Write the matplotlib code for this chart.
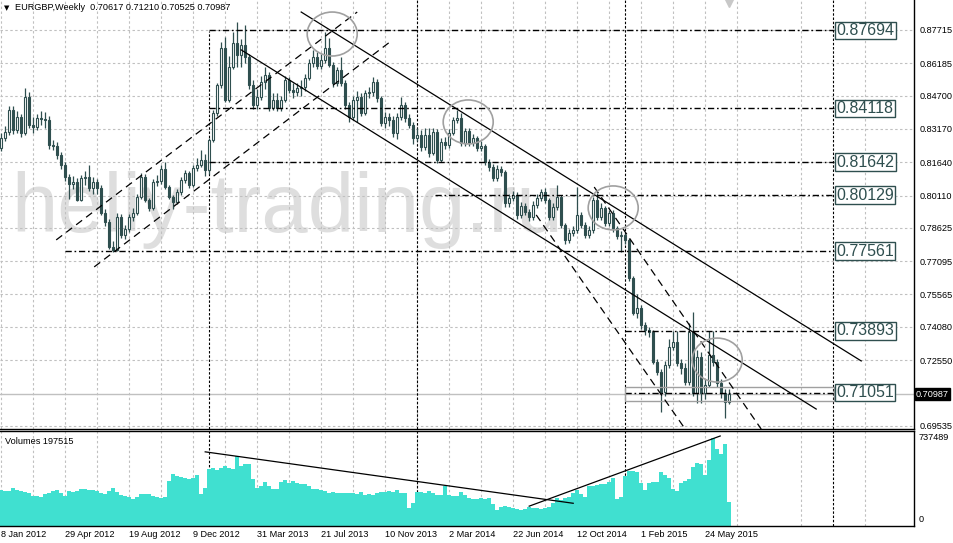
import matplotlib
matplotlib.use("Agg")
import matplotlib.pyplot as plt
from matplotlib import font_manager
from matplotlib.patches import Ellipse, Rectangle
import matplotlib.transforms as mtrans

plt.rcParams['font.family'] = ['Liberation Sans', 'DejaVu Sans']

# weekly EURGBP candles, bar 0 = 8 Jan 2012
first_open = 0.8230
closes = [
    .8276, .8303, .8404, .8312, .8372, .8299, .8464, .8335, .8326, .8367,
    .8363, .8358, .8243, .8239, .8198, .8152, .8097, .8064, .8074, .7991,
    .8092, .8097, .8046, .8074, .8046, .7931, .7890, .7775, .7761, .7913,
    .7830, .7858, .7913, .7931, .8005, .8097, .7991, .7954, .8074, .8079,
    .8133, .8051, .8005, .7982, .8028, .8083, .8115, .8060, .8138, .8152,
    .8175, .8129, .8266, .8390, .8519, .8689, .8450, .8601, .8712, .8657,
    .8702, .8647, .8519, .8427, .8464, .8533, .8565, .8413, .8450, .8413,
    .8450, .8542, .8496, .8487, .8505, .8510, .8551, .8620, .8647, .8606,
    .8634, .8689, .8611, .8528, .8588, .8528, .8427, .8372, .8450, .8464,
    .8390, .8482, .8487, .8533, .8459, .8344, .8372, .8358, .8299, .8372,
    .8427, .8367, .8335, .8276, .8289, .8234, .8289, .8207, .8303, .8175,
    .8257, .8243, .8299, .8358, .8367, .8253, .8308, .8253, .8276, .8230,
    .8239, .8165, .8142, .8092, .8133, .8120, .7977, .8000, .8014, .7922,
    .7963, .7936, .7913, .7968, .8000, .8028, .7991, .7913, .7959, .8005,
    .7876, .7807, .7839, .7853, .7922, .7876, .7830, .7853, .7991, .7913,
    .7954, .7885, .7931, .7862, .7826, .7830, .7807, .7633, .7472, .7495,
    .7417, .7394, .7385, .7247, .7202, .7110, .7234, .7316, .7339, .7243,
    .7220, .7156, .7385, .7105, .7270, .7105, .7142, .7279, .7247, .7151,
    .7105, .70617, .70987]
highs = [
    .8300, .8330, .8420, .8420, .8400, .8385, .8505, .8487, .8370, .8385,
    .8400, .8395, .8375, .8265, .8255, .8210, .8165, .8110, .8100, .8090,
    .8105, .8125, .8150, .8095, .8085, .8060, .7950, .7905, .7800, .7930,
    .7925, .7875, .7925, .7955, .8020, .8115, .8110, .8000, .8085, .8105,
    .8152, .8165, .8060, .8015, .8040, .8095, .8130, .8125, .8150, .8185,
    .8220, .8200, .8275, .8405, .8530, .8716, .8740, .8650, .8760, .8808,
    .8730, .8794, .8660, .8540, .8500, .8560, .8600, .8580, .8480, .8480,
    .8470, .8560, .8555, .8530, .8530, .8540, .8570, .8640, .8680, .8670,
    .8660, .8762, .8735, .8625, .8600, .8647, .8540, .8440, .8470, .8490,
    .8480, .8495, .8510, .8556, .8545, .8470, .8395, .8390, .8375, .8390,
    .8464, .8440, .8385, .8350, .8320, .8310, .8320, .8320, .8320, .8315,
    .8275, .8280, .8315, .8370, .8404, .8390, .8320, .8320, .8295, .8285,
    .8260, .8250, .8180, .8155, .8150, .8145, .8130, .8020, .8030, .8025,
    .7980, .7975, .7950, .7985, .8020, .8040, .8045, .8000, .7975, .8060,
    .8015, .7885, .7855, .7870, .8051, .7935, .7890, .7870, .8005, .8023,
    .7975, .7965, .7945, .7945, .7870, .7850, .7840, .7815, .7640, .7560,
    .7510, .7430, .7405, .7394, .7260, .7215, .7250, .7350, .7389, .7389,
    .7260, .7240, .7426, .7476, .7300, .7290, .7170, .7390, .7390, .7260,
    .7170, .7120, .71210]
lows = [
    .8215, .8260, .8290, .8295, .8300, .8280, .8290, .8320, .8300, .8310,
    .8335, .8320, .8225, .8220, .8180, .8135, .8080, .7995, .8040, .7985,
    .7985, .8060, .8030, .8020, .8020, .7920, .7870, .7765, .7750, .7755,
    .7815, .7810, .7845, .7895, .7920, .7995, .7980, .7940, .7945, .8055,
    .8065, .8040, .7995, .7950, .7970, .8015, .8070, .8045, .8050, .8125,
    .8140, .8100, .8110, .8255, .8375, .8505, .8440, .8440, .8590, .8600,
    .8600, .8620, .8500, .8410, .8410, .8450, .8500, .8400, .8405, .8400,
    .8400, .8440, .8480, .8460, .8470, .8470, .8490, .8540, .8600, .8590,
    .8590, .8620, .8600, .8510, .8515, .8515, .8410, .8350, .8360, .8350,
    .8375, .8380, .8460, .8470, .8440, .8330, .8320, .8330, .8280, .8270,
    .8360, .8350, .8320, .8250, .8260, .8215, .8220, .8190, .8195, .8160,
    .8165, .8225, .8230, .8290, .8345, .8240, .8240, .8240, .8240, .8215,
    .8215, .8150, .8125, .8080, .8080, .8100, .7960, .7960, .7985, .7905,
    .7910, .7920, .7895, .7900, .7955, .7985, .7975, .7900, .7900, .7945,
    .7860, .7790, .7795, .7825, .7840, .7860, .7815, .7815, .7840, .7900,
    .7900, .7870, .7870, .7845, .7810, .7752, .7790, .7620, .7460, .7450,
    .7400, .7370, .7360, .7235, .7185, .7017, .7090, .7220, .7300, .7230,
    .7190, .7140, .7140, .7090, .7060, .7060, .7075, .7130, .7230, .7130,
    .7080, .6990, .70525]
volumes_k = [
    286, 281, 281, 307, 286, 281, 275, 267, 240, 240,
    232, 254, 267, 281, 289, 267, 240, 281, 275, 281,
    294, 294, 289, 286, 281, 267, 259, 281, 307, 273,
    249, 240, 232, 214, 232, 254, 259, 254, 240, 232,
    227, 232, 361, 420, 401, 393, 388, 374, 382, 409,
    254, 307, 454, 468, 446, 468, 481, 468, 460, 561,
    481, 494, 500, 374, 302, 321, 353, 321, 299, 294,
    353, 366, 348, 361, 342, 334, 339, 321, 294, 294,
    286, 281, 267, 273, 267, 262, 262, 267, 267, 254,
    273, 249, 254, 249, 267, 273, 275, 281, 273, 286,
    267, 267, 142, 187, 273, 273, 267, 281, 267, 249,
    249, 321, 246, 240, 240, 273, 249, 227, 214, 219,
    222, 219, 222, 174, 126, 152, 160, 152, 142, 134,
    126, 134, 152, 142, 142, 134, 147, 155, 187, 227,
    208, 222, 232, 267, 289, 254, 235, 321, 321, 329,
    334, 339, 353, 388, 219, 232, 401, 441, 441, 436,
    348, 289, 348, 353, 353, 433, 406, 388, 294, 281,
    348, 361, 380, 476, 502, 494, 406, 529, 703, 615,
    575, 655, 192]

date_labels = ["8 Jan 2012", "29 Apr 2012", "19 Aug 2012", "9 Dec 2012",
               "31 Mar 2013", "21 Jul 2013", "10 Nov 2013", "2 Mar 2014",
               "22 Jun 2014", "12 Oct 2014", "1 Feb 2015", "24 May 2015"]
price_ticks = [0.87715, 0.86185, 0.84700, 0.83170, 0.81640, 0.80110,
               0.78625, 0.77095, 0.75565, 0.74080, 0.72550, 0.69535]
levels = [0.87694, 0.84118, 0.81642, 0.80129, 0.77561, 0.73893, 0.71051]
level_start = [52, 52, 52, 108.5, 16, 156, 156]
year_seps = [52, 104, 156, 208]

# drawn objects, in (bar, price)
trend_solid = [((75, .8854), (215, .7251)), ((60, .8680), (203.75, .7030))]
trend_dashed = [((13.75, .7807), (89, .8854)), ((23.25, .7683), (97.5, .8721)),
                ((133.75, .7922), (171, .6938)), ((148.25, .8050), (190, .6938))]
circles = [(82.75, .8753), (116.75, .8349), (153, .7954), (179, .7255)]
vol_lines = [((51, 594000), (143, 182000)), ((132, 159000), (179.75, 721000))]
last_price = 0.70987

edge = '#2F4F4F'
grid_c = '#C0C0C0'
W, H = 954, 543

fig = plt.figure(figsize=(W / 100, H / 100), dpi=100)
ax = fig.add_axes([0, 1 - 429 / H, 914 / W, 429 / H])
axv = fig.add_axes([0, 1 - 526 / H, 914 / W, 95 / H], sharex=ax)

n = len(closes)
idx = list(range(n))
opens = [first_open] + closes[:-1]

ax.set_xlim(-0.3, 228.2)
ax.set_ylim(0.69383, 0.89093)
axv.set_ylim(0, 761000)

# watermark
installed = {f.name for f in font_manager.fontManager.ttflist}
if 'Liberation Sans Narrow' in installed:
    wm_family, wm_size = 'Liberation Sans Narrow', 69
else:
    wm_family, wm_size = 'Liberation Sans', 60
ax.text(2.5, 0.7843, "heliy-trading.ru", fontsize=wm_size, color='#DEDEDE',
        family=wm_family, va='baseline', ha='left', zorder=0.5)

# grid
ax.set_xticks(range(0, 229, 16))
ax.set_xticks(range(8, 229, 16), minor=True)
ax.set_yticks(price_ticks)
ax.yaxis.tick_right()
ax.grid(True, which='both', color=grid_c, lw=0.8, dashes=(2.2, 2.2))
axv.grid(True, which='both', axis='x', color=grid_c, lw=0.8, dashes=(2.2, 2.2))
ax.set_axisbelow(True)
axv.set_axisbelow(True)

ax.set_yticklabels(["%.5f" % t for t in price_ticks])
ax.tick_params(axis='y', length=0, pad=4, labelsize=6.6)
ax.tick_params(axis='x', which='both', length=0, labelbottom=False)

axv.set_yticks([])
axv.set_xticks(range(0, 177, 16))
axv.set_xticklabels(date_labels)
axv.tick_params(axis='x', which='both', length=0, labelsize=6.6, pad=3)
for lab in axv.get_xticklabels():
    lab.set_ha('left')

for a in (ax, axv):
    a.spines['left'].set_visible(False)
    for s in ('right', 'bottom', 'top'):
        a.spines[s].set_color('black')
        a.spines[s].set_linewidth(1)
ax.spines['top'].set_visible(False)

# year separators
for s in year_seps:
    top = 0.8769 if s == 52 else 0.89093
    ax.plot([s, s], [0.69383, top], color='black', lw=0.8, dashes=(2.2, 1.6), zorder=2)
    axv.axvline(s, color='black', lw=0.8, dashes=(2.2, 1.6), zorder=2)

# level lines + boxed labels
for lv, st in zip(levels, level_start):
    ax.plot([st, 208.25], [lv, lv], color='black', lw=1, dashes=(4.5, 2, 1.2, 2), zorder=4)
    ax.text(208.8, lv, "%.5f" % lv, fontsize=11.5, color=edge, ha='left', va='center',
            bbox=dict(boxstyle='square,pad=0.08', fc='white', ec=edge, lw=1), zorder=6)

ax.add_patch(Rectangle((156, 0.7067), 52.25, 0.00643, fill=False, ec='#A0A0A0', lw=1, zorder=4))
ax.axhline(last_price, color=grid_c, lw=1, zorder=1.5)

# candles
for i, o, h, l, c in zip(idx, opens, highs, lows, closes):
    ax.plot([i, i], [l, h], color=edge, lw=0.9, zorder=3, solid_capstyle='butt')
bottoms = [min(o, c) for o, c in zip(opens, closes)]
heights = [max(abs(c - o), 0.00008) for o, c in zip(opens, closes)]
fills = [edge if c < o else 'white' for o, c in zip(opens, closes)]
ax.bar(idx, heights, bottom=bottoms, width=0.62, color=fills, edgecolor=edge, lw=0.8, zorder=3.5)

# trend lines
for (x1, y1), (x2, y2) in trend_solid:
    ax.plot([x1, x2], [y1, y2], color='black', lw=0.9, zorder=4)
for (x1, y1), (x2, y2) in trend_dashed:
    ax.plot([x1, x2], [y1, y2], color='black', lw=0.9, dashes=(6, 4), zorder=4)
for cx, cy in circles:
    ax.add_patch(Ellipse((cx, cy), 12.5, 0.0202, fill=False, ec='#A0A0A0', lw=1.2, zorder=4))

# volumes
axv.bar(idx, [v * 1000 for v in volumes_k], width=1.0, color='#40E0D0', lw=0, zorder=2)
for (x1, y1), (x2, y2) in vol_lines:
    axv.plot([x1, x2], [y1, y2], color='black', lw=0.9, zorder=4)

# texts
tr = mtrans.blended_transform_factory(ax.transAxes, ax.transData)
ax.text(1.0 + 2 / 914, last_price, "%.5f" % last_price, transform=tr, fontsize=6.6, color='white',
        ha='left', va='center', bbox=dict(boxstyle='square,pad=0.15', fc='black', ec='black'), clip_on=False)
axv.text(1.0 + 5 / 914, (526 - 438) / 95, "737489", transform=axv.transAxes, fontsize=6.6, va='center')
axv.text(1.0 + 5 / 914, (526 - 520) / 95, "0", transform=axv.transAxes, fontsize=6.6, va='center')
axv.text(5 / 914, (526 - 441) / 95, "Volumes 197515", transform=axv.transAxes,
         fontsize=6.6, va='center')
fig.text(4 / W, 1 - 8 / H, "\u25bc", fontsize=5, va='center', family=['DejaVu Sans'])
fig.text(15 / W, 1 - 8 / H, "EURGBP,Weekly  0.70617 0.71210 0.70525 0.70987", fontsize=6.6, va='center')
ax.plot(182, 0.8895, marker='v', color='#C8C8C8', ms=6, clip_on=False, zorder=5)

fig.savefig("out.png", dpi=100)
